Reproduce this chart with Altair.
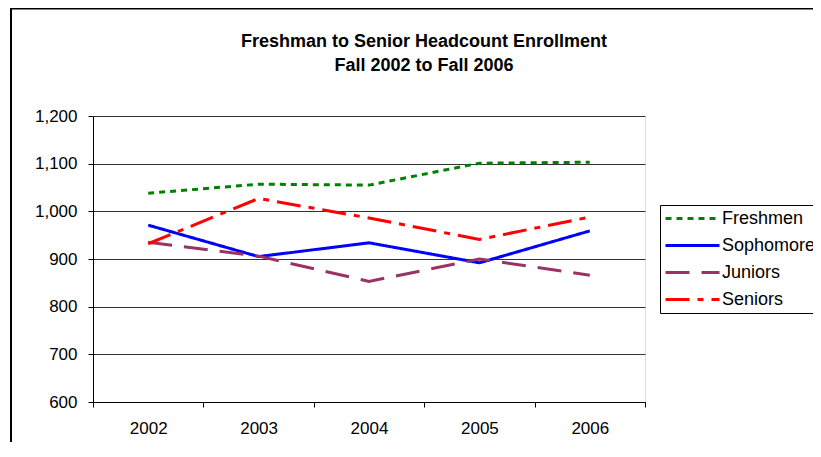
import altair as alt
import pandas as pd

years = ["2002", "2003", "2004", "2005", "2006"]
series = ["Freshmen", "Sophomores", "Juniors", "Seniors"]
freshmen = [1038, 1057, 1055, 1101, 1103]
sophomores = [971, 905, 934, 892, 959]
juniors = [935, 906, 853, 900, 866]
seniors = [932, 1027, 986, 941, 988]
title_lines = ["Freshman to Senior Headcount Enrollment", "Fall 2002 to Fall 2006"]

colors = ["#008000", "#0000FF", "#993366", "#FF0000"]
dashes = [[6, 5], [1, 0], [24, 12], [24, 8, 6, 8]]

rows = []
for name, vals in zip(series, [freshmen, sophomores, juniors, seniors]):
    for y, v in zip(years, vals):
        rows.append({"Year": y, "Series": name, "Value": v})
df = pd.DataFrame(rows)

FONT = "Liberation Sans"
W, H = 552, 286

frame = alt.Chart(alt.Data(values=[{"a": 1}])).mark_rect(
    fill="transparent", stroke="black", strokeWidth=2, clip=False
).encode(
    x=alt.value(-82), y=alt.value(-107.5), x2=alt.value(W + 300), y2=alt.value(H + 200)
)

title1 = alt.Chart(alt.Data(values=[{"t": title_lines[0]}])).mark_text(
    font=FONT, fontSize=18, fontWeight="bold", color="black",
    align="center", baseline="alphabetic"
).encode(text="t:N", x=alt.value(331), y=alt.value(-69.3))

title2 = alt.Chart(alt.Data(values=[{"t": title_lines[1]}])).mark_text(
    font=FONT, fontSize=18, fontWeight="bold", color="black",
    align="center", baseline="alphabetic"
).encode(text="t:N", x=alt.value(331), y=alt.value(-45.3))

lines = alt.Chart(df).mark_line(strokeWidth=3, clip=False).encode(
    x=alt.X("Year:N", sort=years,
            scale=alt.Scale(paddingInner=0, paddingOuter=0),
            axis=alt.Axis(title=None, labelAngle=0, tickBand="extent", grid=False,
                          domainColor="black", tickColor="black", tickSize=5,
                          labelFontSize=17, labelFont=FONT, labelColor="black",
                          labelPadding=13)),
    y=alt.Y("Value:Q", scale=alt.Scale(domain=[600, 1200], nice=False),
            axis=alt.Axis(title=None, values=list(range(600, 1201, 100)), format=",.0f",
                          grid=True, gridColor="#333333", gridWidth=1,
                          domainColor="black", tickColor="black", tickSize=5,
                          labelFontSize=17, labelFont=FONT, labelColor="black",
                          labelPadding=11)),
    color=alt.Color("Series:N", sort=series,
                    scale=alt.Scale(domain=series, range=colors),
                    legend=alt.Legend(title=None, orient="none", legendX=567, legendY=89,
                                      symbolType="stroke", symbolSize=2916,
                                      symbolStrokeWidth=3, symbolOffset=4,
                                      labelFontSize=18, labelFont=FONT, labelColor="black",
                                      labelOffset=1, clipHeight=27, rowPadding=0, padding=0,
                                      strokeColor="black", fillColor="white",
                                      labelLimit=300)),
    strokeDash=alt.StrokeDash("Series:N", sort=series,
                              scale=alt.Scale(domain=series, range=dashes),
                              legend=None),
    order=alt.Order("Year:N"),
)

chart = alt.layer(frame, title1, title2, lines).properties(
    width=W, height=H,
    autosize=alt.AutoSizeParams(type="none"),
    padding={"left": 85, "top": 108, "right": 168, "bottom": 40},
).configure_view(stroke="#808080", strokeWidth=1).configure(background="white")

chart.save("out.html", embed_options={"renderer": "svg", "actions": False})
